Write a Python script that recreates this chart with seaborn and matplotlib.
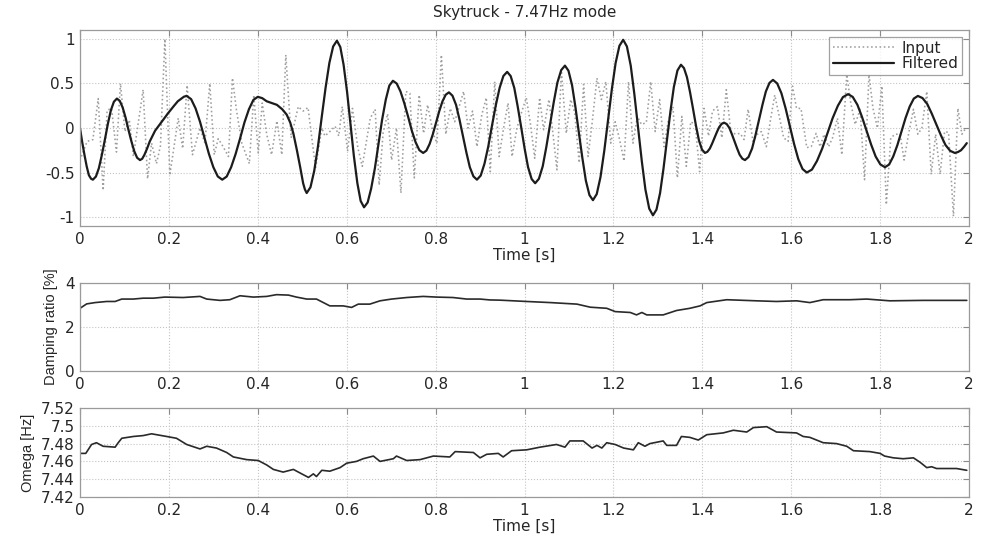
import matplotlib
matplotlib.use("Agg")
import matplotlib.pyplot as plt
import seaborn as sns
import pandas as pd
from matplotlib.ticker import FuncFormatter, FixedLocator

# ---------------- data ----------------
title_text = "Skytruck - 7.47Hz mode"
legend_labels = ["Input", "Filtered"]

input_pts = [
    (0.003, -0.32), (0.016, -0.15), (0.029, -0.13), (0.041, 0.33), (0.052, -0.70),
    (0.061, 0.20), (0.071, 0.22), (0.082, -0.27), (0.091, 0.50), (0.101, -0.04),
    (0.111, 0.09), (0.120, -0.32), (0.142, 0.43), (0.152, -0.57), (0.161, -0.17),
    (0.172, -0.40), (0.181, -0.20), (0.191, 1.00), (0.202, -0.53), (0.221, 0.11),
    (0.231, -0.23), (0.241, 0.48), (0.253, -0.30), (0.270, 0.00), (0.281, -0.17),
    (0.292, 0.50), (0.302, -0.30), (0.311, -0.12), (0.322, -0.21), (0.334, -0.32),
    (0.343, 0.56), (0.352, 0.20), (0.364, -0.17), (0.381, -0.40), (0.391, 0.37),
    (0.401, -0.28), (0.410, 0.28), (0.420, -0.07), (0.431, -0.30), (0.443, 0.08),
    (0.454, -0.30), (0.463, 0.82), (0.475, -0.11), (0.491, 0.24), (0.502, 0.19),
    (0.513, 0.23), (0.530, -0.45), (0.544, 0.00), (0.551, -0.09), (0.562, -0.04),
    (0.574, 0.02), (0.582, -0.09), (0.590, 0.24), (0.602, -0.26), (0.613, 0.22),
    (0.625, -0.22), (0.635, -0.43), (0.645, -0.13), (0.653, 0.11), (0.664, 0.21),
    (0.673, -0.64), (0.682, -0.05), (0.692, 0.16), (0.701, -0.36), (0.712, 0.00),
    (0.722, -0.73), (0.733, 0.41), (0.742, 0.39), (0.752, -0.56), (0.763, 0.37),
    (0.773, -0.06), (0.782, 0.26), (0.795, -0.07), (0.803, -0.17), (0.813, 0.82),
    (0.823, -0.07), (0.833, 0.22), (0.843, 0.07), (0.853, 0.24), (0.863, 0.41),
    (0.873, 0.00), (0.883, 0.19), (0.893, -0.21), (0.904, 0.15), (0.914, 0.34),
    (0.923, -0.49), (0.933, 0.52), (0.943, -0.32), (0.953, 0.00), (0.963, 0.28),
    (0.972, -0.32), (0.983, 0.00), (0.993, 0.17), (1.004, 0.34), (1.013, 0.06),
    (1.023, -0.34), (1.034, 0.34), (1.043, -0.02), (1.055, 0.32), (1.064, -0.06),
    (1.073, -0.47), (1.083, 0.64), (1.094, -0.06), (1.104, 0.32), (1.113, 0.17),
    (1.123, -0.39), (1.133, 0.49), (1.143, -0.32), (1.152, 0.05), (1.163, 0.56),
    (1.173, 0.32), (1.183, 0.52), (1.194, -0.17), (1.204, 0.07), (1.213, -0.11),
    (1.224, -0.37), (1.234, 0.52), (1.244, -0.17), (1.254, 0.13), (1.263, 0.04),
    (1.274, 0.06), (1.284, 0.52), (1.294, -0.04), (1.304, 0.32), (1.314, -0.21),
    (1.323, 0.07), (1.334, 0.24), (1.344, -0.56), (1.354, 0.13), (1.364, -0.43),
    (1.374, 0.07), (1.384, 0.04), (1.394, -0.49), (1.404, 0.22), (1.414, -0.09),
    (1.423, 0.19), (1.434, 0.24), (1.444, -0.11), (1.454, 0.43), (1.464, -0.04),
    (1.475, -0.07), (1.485, -0.06), (1.494, -0.13), (1.503, 0.21), (1.514, -0.15),
    (1.524, -0.07), (1.533, -0.04), (1.544, -0.21), (1.554, 0.11), (1.563, 0.37),
    (1.574, 0.11), (1.583, -0.11), (1.593, -0.15), (1.603, 0.47), (1.612, 0.22),
    (1.622, 0.22), (1.635, -0.22), (1.645, -0.21), (1.656, -0.06), (1.665, -0.21),
    (1.674, -0.07), (1.684, -0.21), (1.693, -0.11), (1.704, 0.11), (1.714, -0.30),
    (1.725, 0.60), (1.734, 0.28), (1.744, 0.04), (1.755, 0.21), (1.765, -0.58),
    (1.775, 0.60), (1.784, 0.22), (1.794, 0.00), (1.804, 0.47), (1.814, -0.86),
    (1.824, -0.11), (1.834, -0.07), (1.845, -0.07), (1.854, -0.36), (1.864, -0.07),
    (1.875, 0.21), (1.885, -0.07), (1.894, 0.00), (1.905, 0.41), (1.915, -0.52),
    (1.925, -0.07), (1.935, -0.52), (1.945, -0.04), (1.954, -0.05), (1.965, -0.99),
    (1.975, 0.22), (1.984, -0.07), (1.993, 0.00),
]

filtered_pts = [
    (0.000, 0.00), (0.005, -0.16), (0.010, -0.30), (0.015, -0.43), (0.020, -0.53), (0.025, -0.57),
    (0.029, -0.58), (0.0358, -0.545), (0.0425, -0.45), (0.0493, -0.299), (0.056, -0.13), (0.0628, 0.049), (0.0695, 0.20), (0.0763, 0.295),
    (0.083, 0.33), (0.0895, 0.304), (0.096, 0.23), (0.1025, 0.117), (0.109, -0.02), (0.1155, -0.147), (0.122, -0.26), (0.1285, -0.334),
    (0.135, -0.36), (0.140, -0.345), (0.145, -0.30), (0.151, -0.23), (0.157, -0.15), (0.169, -0.03), (0.178, 0.03), (0.187, 0.09),
    (0.198, 0.165), (0.210, 0.24), (0.220, 0.30), (0.228, 0.33), (0.234, 0.352),
    (0.240, 0.36), (0.250, 0.324), (0.260, 0.22), (0.270, 0.07), (0.280, -0.11), (0.290, -0.29), (0.300, -0.44), (0.310, -0.544),
    (0.320, -0.58), (0.330, -0.545), (0.340, -0.44), (0.350, -0.293), (0.360, -0.12), (0.370, 0.063), (0.380, 0.21), (0.390, 0.315),
    (0.400, 0.35), (0.410, 0.335), (0.420, 0.30), (0.443, 0.26), (0.455, 0.21), (0.465, 0.15), (0.473, 0.06), (0.480, -0.06),
    (0.488, -0.25), (0.495, -0.43), (0.502, -0.62), (0.506, -0.69),
    (0.510, -0.73), (0.5185, -0.665), (0.527, -0.48), (0.5355, -0.202), (0.544, 0.13), (0.5525, 0.452), (0.561, 0.73), (0.5695, 0.915),
    (0.578, 0.98), (0.5856, 0.909), (0.593, 0.71), (0.6009, 0.403), (0.6085, 0.05), (0.6161, -0.313), (0.624, -0.62), (0.6314, -0.819),
    (0.639, -0.89), (0.6471, -0.836), (0.655, -0.68), (0.6634, -0.452), (0.6715, -0.18), (0.6796, 0.092), (0.688, 0.32), (0.6959, 0.476),
    (0.704, 0.53), (0.7125, 0.499), (0.721, 0.41), (0.7295, 0.28), (0.738, 0.13), (0.7465, -0.03), (0.755, -0.16), (0.7635, -0.249),
    (0.772, -0.28), (0.7793, -0.254), (0.7865, -0.18), (0.7938, -0.07), (0.801, 0.06), (0.8083, 0.19), (0.8155, 0.30), (0.8228, 0.374),
    (0.830, 0.40), (0.8379, 0.363), (0.846, 0.26), (0.8536, 0.098), (0.8615, -0.09), (0.8694, -0.278), (0.877, -0.44), (0.8851, -0.543),
    (0.893, -0.58), (0.9015, -0.534), (0.910, -0.40), (0.9185, -0.207), (0.927, 0.03), (0.9355, 0.257), (0.944, 0.45), (0.9525, 0.584),
    (0.961, 0.63), (0.9689, 0.583), (0.977, 0.45), (0.9846, 0.244), (0.9925, 0.01), (1.0004, -0.234), (1.008, -0.44), (1.0161, -0.573),
    (1.024, -0.62), (1.0324, -0.57), (1.041, -0.43), (1.0491, -0.213), (1.0575, 0.04), (1.0659, 0.293), (1.074, 0.51), (1.0826, 0.65),
    (1.091, 0.70), (1.0989, 0.643), (1.107, 0.48), (1.1146, 0.234), (1.1225, -0.06), (1.1304, -0.344), (1.138, -0.59), (1.1461, -0.753),
    (1.154, -0.81), (1.1625, -0.742), (1.171, -0.55), (1.1795, -0.255), (1.188, 0.09), (1.1965, 0.435), (1.205, 0.73), (1.2135, 0.922),
    (1.222, 0.99), (1.2304, 0.915), (1.239, 0.70), (1.2471, 0.382), (1.2555, 0.01), (1.2639, -0.372), (1.272, -0.69), (1.2806, -0.905),
    (1.289, -0.98), (1.2969, -0.916), (1.305, -0.73), (1.3126, -0.459), (1.3205, -0.14), (1.3284, 0.189), (1.336, 0.46), (1.3441, 0.646),
    (1.352, 0.71), (1.3588, 0.672), (1.3655, 0.57), (1.3723, 0.405), (1.379, 0.22), (1.3858, 0.025), (1.3925, -0.14), (1.3993, -0.242),
    (1.406, -0.28), (1.4114, -0.267), (1.417, -0.23), (1.4221, -0.175), (1.4275, -0.11), (1.4329, -0.045), (1.438, 0.01), (1.4436, 0.047),
    (1.449, 0.06), (1.4549, 0.044), (1.461, 0.00), (1.4666, -0.07), (1.4725, -0.15), (1.4784, -0.23), (1.484, -0.30), (1.4901, -0.344),
    (1.496, -0.36), (1.5039, -0.326), (1.512, -0.23), (1.5196, -0.082), (1.5275, 0.09), (1.5354, 0.262), (1.543, 0.41), (1.5511, 0.506),
    (1.559, 0.54), (1.5685, 0.50), (1.578, 0.39), (1.5875, 0.219), (1.597, 0.02), (1.6065, -0.179), (1.616, -0.35), (1.6255, -0.46),
    (1.635, -0.50), (1.6466, -0.467), (1.658, -0.37), (1.6699, -0.229), (1.6815, -0.06), (1.6931, 0.109), (1.705, 0.25), (1.7164, 0.347),
    (1.728, 0.38), (1.7384, 0.349), (1.749, 0.26), (1.7591, 0.127), (1.7695, -0.03), (1.7799, -0.187), (1.790, -0.32), (1.8006, -0.409),
    (1.811, -0.44), (1.8203, -0.41), (1.8295, -0.32), (1.8388, -0.193), (1.848, -0.04), (1.8573, 0.113), (1.8665, 0.24), (1.8758, 0.33),
    (1.885, 0.36), (1.8954, 0.336), (1.906, 0.27), (1.9161, 0.163), (1.9265, 0.04), (1.9369, -0.083), (1.947, -0.19), (1.9576, -0.256),
    (1.968, -0.28), (1.975, -0.27), (1.982, -0.25), (1.989, -0.21), (1.995, -0.17),
]

damping_pts = [
    (0.000, 2.85), (0.015, 3.05), (0.034, 3.11), (0.060, 3.16), (0.079, 3.16),
    (0.094, 3.27), (0.120, 3.27), (0.142, 3.31), (0.165, 3.31), (0.191, 3.36),
    (0.232, 3.34), (0.270, 3.39), (0.285, 3.27), (0.315, 3.21), (0.337, 3.24),
    (0.360, 3.42), (0.390, 3.36), (0.420, 3.39), (0.442, 3.47), (0.469, 3.45),
    (0.487, 3.36), (0.510, 3.27), (0.532, 3.27), (0.562, 2.96), (0.592, 2.96),
    (0.611, 2.89), (0.626, 3.04), (0.652, 3.04), (0.675, 3.19), (0.701, 3.27),
    (0.735, 3.34), (0.772, 3.39), (0.802, 3.36), (0.839, 3.34), (0.870, 3.27),
    (0.900, 3.27), (0.922, 3.23), (0.945, 3.22), (1.005, 3.16), (1.058, 3.11),
    (1.118, 3.04), (1.148, 2.90), (1.185, 2.85), (1.204, 2.70), (1.238, 2.66),
    (1.252, 2.55), (1.264, 2.66), (1.275, 2.55), (1.312, 2.55), (1.342, 2.75),
    (1.372, 2.85), (1.395, 2.96), (1.410, 3.11), (1.455, 3.24), (1.522, 3.19),
    (1.567, 3.16), (1.612, 3.19), (1.642, 3.11), (1.672, 3.24), (1.732, 3.24),
    (1.770, 3.27), (1.822, 3.19), (1.897, 3.21), (1.995, 3.21),
]

omega_pts = [
    (0.000, 7.469), (0.013, 7.469), (0.026, 7.479), (0.037, 7.481), (0.052, 7.477),
    (0.079, 7.476), (0.086, 7.481), (0.094, 7.486), (0.120, 7.488), (0.142, 7.489),
    (0.161, 7.491), (0.195, 7.488), (0.217, 7.486), (0.240, 7.479), (0.270, 7.474),
    (0.285, 7.477), (0.307, 7.475), (0.330, 7.470), (0.345, 7.465), (0.375, 7.462),
    (0.401, 7.461), (0.420, 7.456), (0.435, 7.451), (0.457, 7.448), (0.480, 7.451),
    (0.495, 7.447), (0.514, 7.442), (0.525, 7.446), (0.532, 7.443), (0.544, 7.450),
    (0.562, 7.449), (0.585, 7.453), (0.600, 7.458), (0.622, 7.460), (0.637, 7.463),
    (0.660, 7.466), (0.675, 7.460), (0.705, 7.463), (0.712, 7.466), (0.735, 7.461),
    (0.765, 7.462), (0.795, 7.466), (0.832, 7.465), (0.844, 7.471), (0.885, 7.470),
    (0.900, 7.464), (0.915, 7.468), (0.941, 7.469), (0.952, 7.465), (0.971, 7.472),
    (1.005, 7.473), (1.035, 7.476), (1.072, 7.479), (1.091, 7.476), (1.102, 7.483),
    (1.132, 7.483), (1.152, 7.475), (1.163, 7.478), (1.174, 7.475), (1.185, 7.481),
    (1.204, 7.479), (1.223, 7.475), (1.245, 7.473), (1.256, 7.481), (1.271, 7.477),
    (1.282, 7.480), (1.312, 7.483), (1.320, 7.478), (1.342, 7.478), (1.353, 7.488),
    (1.372, 7.487), (1.391, 7.484), (1.410, 7.490), (1.447, 7.492), (1.470, 7.495),
    (1.500, 7.493), (1.515, 7.498), (1.545, 7.499), (1.567, 7.493), (1.612, 7.492),
    (1.627, 7.488), (1.642, 7.487), (1.672, 7.481), (1.702, 7.480), (1.725, 7.477),
    (1.740, 7.472), (1.777, 7.471), (1.800, 7.469), (1.810, 7.466), (1.830, 7.464),
    (1.852, 7.463), (1.875, 7.464), (1.890, 7.459), (1.905, 7.453), (1.916, 7.454),
    (1.927, 7.452), (1.972, 7.452), (1.995, 7.450),
]

x_ticks = [0, 0.2, 0.4, 0.6, 0.8, 1.0, 1.2, 1.4, 1.6, 1.8, 2.0]
top_yticks = [-1, -0.5, 0, 0.5, 1]
damp_yticks = [0, 2, 4]
omega_yticks = [7.42, 7.44, 7.46, 7.48, 7.50, 7.52]

# ---------------- frames ----------------
df_in = pd.DataFrame(input_pts, columns=["t", "v"])
df_f = pd.DataFrame(filtered_pts, columns=["t", "v"])
df_d = pd.DataFrame(damping_pts, columns=["t", "v"])
df_o = pd.DataFrame(omega_pts, columns=["t", "v"])

# ---------------- style ----------------
sns.set_theme(style="white")
plt.rcParams["font.family"] = ["DejaVu Sans"]
plt.rcParams["axes.unicode_minus"] = False

W, H = 981, 540
fig = plt.figure(figsize=(W / 100, H / 100), dpi=100)
fig.patch.set_facecolor("white")


def rect(l, t, r, b):
    return [l / W, 1 - b / H, (r - l) / W, (b - t) / H]


ax1 = fig.add_axes(rect(80, 30, 969, 226))
ax2 = fig.add_axes(rect(80, 283, 969, 371))
ax3 = fig.add_axes(rect(80, 408, 969, 497))

fmt = FuncFormatter(lambda v, p: ("%g" % round(v, 4)))

sns.lineplot(data=df_in, x="t", y="v", ax=ax1, color="#9e9e9e", linestyle=":",
             linewidth=1.15, label=legend_labels[0], sort=False, estimator=None)
sns.lineplot(data=df_f, x="t", y="v", ax=ax1, color="#1c1c1c", linewidth=1.6,
             label=legend_labels[1], sort=False, estimator=None)
sns.lineplot(data=df_d, x="t", y="v", ax=ax2, color="#2a2a2a", linewidth=1.2,
             sort=False, estimator=None)
sns.lineplot(data=df_o, x="t", y="v", ax=ax3, color="#2a2a2a", linewidth=1.2,
             sort=False, estimator=None)

for ax in (ax1, ax2, ax3):
    ax.set_xlim(0, 2)
    ax.xaxis.set_major_locator(FixedLocator(x_ticks))
    ax.xaxis.set_major_formatter(fmt)
    ax.yaxis.set_major_formatter(fmt)
    ax.grid(True, linestyle=":", color="#c4c4c4", linewidth=0.8)
    ax.tick_params(direction="in", length=4, width=0.8, top=True, right=True,
                   color="#8a8a8a", labelsize=11, labelcolor="#262626", pad=4)
    for s in ax.spines.values():
        s.set_color("#9a9a9a")
        s.set_linewidth(0.9)
    ax.set_facecolor("white")

ax1.set_ylim(-1.1, 1.1)
ax1.yaxis.set_major_locator(FixedLocator(top_yticks))
ax2.set_ylim(0, 4)
ax2.yaxis.set_major_locator(FixedLocator(damp_yticks))
ax3.set_ylim(7.42, 7.52)
ax3.yaxis.set_major_locator(FixedLocator(omega_yticks))

ax1.set_xlabel("Time [s]", fontsize=11, color="#262626", labelpad=1)
ax1.set_ylabel("")
ax2.set_xlabel("")
ax2.set_ylabel("Damping ratio [%]", fontsize=10.5, family=["Liberation Sans", "DejaVu Sans"],
               color="#262626", labelpad=5)
ax3.set_xlabel("Time [s]", fontsize=11, color="#262626", labelpad=1)
ax3.set_ylabel("Omega [Hz]", fontsize=10.5, family=["Liberation Sans", "DejaVu Sans"],
               color="#262626", labelpad=4)
ax1.set_title(title_text, fontsize=11, color="#262626", pad=9)

leg = ax1.legend(loc="upper right", frameon=True, fancybox=False, fontsize=11,
                 handlelength=4.0, borderpad=0.25, labelspacing=0.05,
                 handletextpad=0.5, borderaxespad=0.45)
leg.get_frame().set_edgecolor("#8a8a8a")
leg.get_frame().set_linewidth(0.9)
for txt in leg.get_texts():
    txt.set_color("#262626")

fig.savefig("out.png", dpi=100, facecolor="white")
